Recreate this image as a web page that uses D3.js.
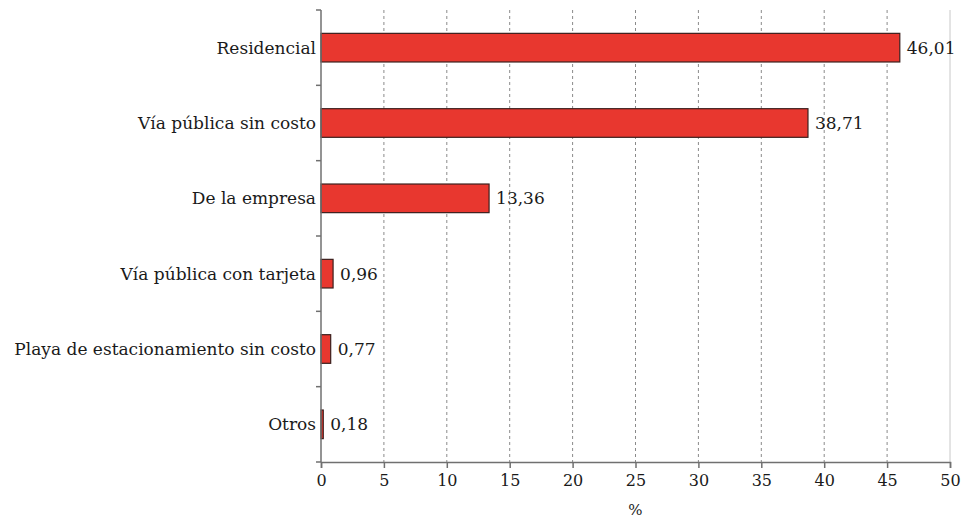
<!DOCTYPE html>
<html lang="es">
<head>
  <meta charset="UTF-8" />
  <title>Estacionamiento</title>
  <script src="https://d3js.org/d3.v7.min.js"></script>
  <style>
    body { margin: 0; background: #fff; }
    svg text { font-family: "DejaVu Serif", serif; fill: #1a1a1a; }
  </style>
</head>
<body>
  <svg width="964" height="520" id="chart"></svg>

  <script>
    const categories = [
      "Residencial",
      "Vía pública sin costo",
      "De la empresa",
      "Vía pública con tarjeta",
      "Playa de estacionamiento sin costo",
      "Otros"
    ];
    const values = [46.01, 38.71, 13.36, 0.96, 0.77, 0.18];
    const xTicks = [0, 5, 10, 15, 20, 25, 30, 35, 40, 45, 50];
    const xTitle = "%";

    const svg = d3.select("#chart");
    const plotLeft = 321, plotRight = 950, plotTop = 10, plotBottom = 462;
    const serif = "'DejaVu Serif', serif";

    const x = d3.scaleLinear().domain([0, 50]).range([plotLeft, plotRight]);
    const y = d3.scaleBand().domain(categories).range([plotTop, plotBottom]).paddingInner(0.62).paddingOuter(0.31);
    const step = y.step();
    const fmt = d => d.toFixed(2).replace(".", ",");

    // grid
    svg.append("g").selectAll("line")
      .data(xTicks.filter(t => t > 0 && t < 50))
      .enter().append("line")
      .attr("x1", d => x(d)).attr("x2", d => x(d))
      .attr("y1", plotTop).attr("y2", plotBottom)
      .attr("stroke", "#8a8a8a").attr("stroke-width", 1)
      .attr("stroke-dasharray", "3,3");

    // right border
    svg.append("line")
      .attr("x1", x(50)).attr("x2", x(50)).attr("y1", plotTop).attr("y2", plotBottom)
      .attr("stroke", "#c8c8c8").attr("stroke-width", 1);

    // bars
    svg.append("g").selectAll("rect")
      .data(values)
      .enter().append("rect")
      .attr("x", x(0))
      .attr("y", (d, i) => y(categories[i]))
      .attr("width", d => x(d) - x(0))
      .attr("height", y.bandwidth())
      .attr("fill", "#e8372f")
      .attr("stroke", "#3b1f1d").attr("stroke-width", 1.2);

    // value labels
    svg.append("g").selectAll("text")
      .data(values)
      .enter().append("text")
      .attr("x", d => x(d) + 7)
      .attr("y", (d, i) => y(categories[i]) + y.bandwidth() / 2)
      .attr("dy", "0.35em")
      .attr("font-family", serif)
      .attr("font-size", 17)
      .text(fmt);

    // x axis
    const xAxis = d3.axisBottom(x).tickValues(xTicks).tickSize(6).tickPadding(7).tickFormat(d3.format("d"));
    const gx = svg.append("g").attr("transform", `translate(0,${plotBottom})`).call(xAxis);
    gx.attr("font-family", serif);
    gx.select(".domain").attr("stroke", "#707070").attr("stroke-width", 1.5);
    gx.selectAll(".tick line").attr("stroke", "#707070").attr("stroke-width", 1.5);
    gx.selectAll(".tick text").attr("font-size", 16).attr("font-family", serif).attr("fill", "#1a1a1a");

    // y axis (line + ticks between bands)
    svg.append("line")
      .attr("x1", plotLeft).attr("x2", plotLeft).attr("y1", plotTop).attr("y2", plotBottom)
      .attr("stroke", "#707070").attr("stroke-width", 1.5);
    svg.append("g").selectAll("line")
      .data(d3.range(categories.length + 1))
      .enter().append("line")
      .attr("x1", plotLeft - 5).attr("x2", plotLeft)
      .attr("y1", i => plotTop + i * step).attr("y2", i => plotTop + i * step)
      .attr("stroke", "#707070").attr("stroke-width", 1.5);

    svg.append("g").selectAll("text")
      .data(categories)
      .enter().append("text")
      .attr("x", plotLeft - 5)
      .attr("y", d => y(d) + y.bandwidth() / 2)
      .attr("dy", "0.35em")
      .attr("text-anchor", "end")
      .attr("font-family", serif)
      .attr("font-size", 17)
      .text(d => d);

    svg.append("text")
      .attr("x", (plotLeft + plotRight) / 2)
      .attr("y", 515)
      .attr("text-anchor", "middle")
      .attr("font-family", serif)
      .attr("font-size", 15)
      .text(xTitle);
  </script>
</body>
</html>
